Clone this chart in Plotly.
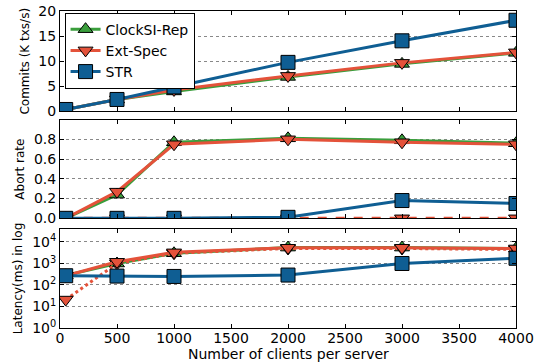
import plotly.graph_objects as go
from plotly.subplots import make_subplots

clients = [50, 500, 1000, 2000, 3000, 4000]

commits_clocksi = [0.4, 2.4, 4.0, 6.9, 9.5, 11.7]
commits_extspec = [0.4, 2.4, 4.3, 7.1, 9.7, 11.8]
commits_str = [0.4, 2.4, 4.9, 9.8, 14.1, 18.2]

abort_clocksi = [0.0, 0.24, 0.77, 0.81, 0.79, 0.76]
abort_extspec = [0.0, 0.27, 0.75, 0.80, 0.77, 0.75]
abort_extspec_spec = [0.0, 0.0, 0.0, 0.0, 0.0, 0.0]
abort_str = [0.0, 0.0, 0.0, 0.01, 0.18, 0.15]

lat_clocksi = [280, 1000, 3000, 5500, 5500, 5000]
lat_extspec = [270, 1200, 3300, 5400, 5400, 5000]
lat_extspec_spec = [21, 1000, 3000, 5000, 5000, 4500]
lat_str = [270, 260, 250, 290, 1000, 1750]

GREEN = "#3a9e3c"
RED = "#e4523a"
BLUE = "#0f5e93"

fig = make_subplots(rows=3, cols=1, shared_xaxes=False, vertical_spacing=0.03)

def add(row, y, name, color, symbol, size, dash="solid", show=False):
    fig.add_trace(go.Scatter(
        x=clients, y=y, name=name, mode="lines+markers",
        line=dict(color=color, width=3, dash=dash),
        marker=dict(symbol=symbol, size=size, color=color, line=dict(color="black", width=1)),
        showlegend=show, legendgroup=name), row=row, col=1)

add(1, commits_clocksi, "ClockSI-Rep", GREEN, "triangle-up", 13, show=True)
add(1, commits_extspec, "Ext-Spec", RED, "triangle-down", 13, show=True)
add(1, commits_str, "STR", BLUE, "square", 14, show=True)

add(2, abort_clocksi, "ClockSI-Rep", GREEN, "triangle-up", 13)
add(2, abort_extspec_spec, "Ext-Spec-dash", RED, "triangle-down", 13, dash="dash")
add(2, abort_extspec, "Ext-Spec", RED, "triangle-down", 13)
add(2, abort_str, "STR", BLUE, "square", 14)

add(3, lat_clocksi, "ClockSI-Rep", GREEN, "triangle-up", 13)
add(3, lat_extspec_spec, "Ext-Spec-dash", RED, "triangle-down", 13, dash="dot")
add(3, lat_extspec, "Ext-Spec", RED, "triangle-down", 13)
add(3, lat_str, "STR", BLUE, "square", 14)

font = dict(family="DejaVu Sans", size=14, color="black")
xcommon = dict(range=[0, 4000], tickvals=[0, 500, 1000, 1500, 2000, 2500, 3000, 3500, 4000],
               ticks="inside", ticklen=4, tickcolor="black", mirror="ticks", showline=True,
               linecolor="black", linewidth=1, showgrid=False, zeroline=False, tickfont=font,
               automargin=False, ticklabeloverflow="allow")
ycommon = dict(ticks="inside", ticklen=4, tickcolor="black", mirror="ticks", showline=True,
               linecolor="black", linewidth=1, showgrid=True, gridcolor="#888888", griddash="dot",
               gridwidth=1, zeroline=False, tickfont=font, automargin=False,
               ticklabeloverflow="allow")
tfont = dict(family="DejaVu Sans", size=12, color="black")

fig.update_layout(
    width=537, height=362, margin=dict(l=60, r=21, t=11, b=34),
    plot_bgcolor="white", paper_bgcolor="white", font=font,
    xaxis=dict(**xcommon, showticklabels=False, domain=[0, 1]),
    xaxis2=dict(**xcommon, showticklabels=False, domain=[0, 1]),
    xaxis3=dict(**xcommon, showticklabels=True, domain=[0, 1], ticklabelstandoff=-3),
    yaxis=dict(**ycommon, domain=[0.683, 1.0], range=[0, 20.05], tickvals=[0, 5, 10, 15, 20],
               title=dict(text="Commits (K txs/s)", font=tfont, standoff=6)),
    yaxis2=dict(**ycommon, domain=[0.346, 0.656], range=[0, 0.995], tickvals=[0, 0.2, 0.4, 0.6, 0.8],
                ticktext=["0.0", "0.2", "0.4", "0.6", "0.8"],
                title=dict(text="Abort rate", font=tfont, standoff=6)),
    yaxis3=dict(**ycommon, domain=[0.0, 0.312], type="log", range=[0, 4.6],
                tickvals=[1, 10, 100, 1000, 10000],
                ticktext=["10<sup>0</sup>", "10<sup>1</sup>", "10<sup>2</sup>", "10<sup>3</sup>", "10<sup>4</sup>"],
                title=dict(text="Latency(ms) in log", font=tfont, standoff=6)),
    legend=dict(x=0.01, y=0.995, xanchor="left", yanchor="top", bgcolor="white",
                bordercolor="black", borderwidth=1, font=dict(family="DejaVu Sans", size=14),
                tracegroupgap=0, itemwidth=30),
    annotations=[dict(text="Number of clients per server", xref="paper", yref="paper",
                      x=0.5, y=-0.083, xanchor="center", yanchor="middle", showarrow=False,
                      font=dict(family="DejaVu Sans", size=14, color="black"))],
)

fig.write_html("out.html", config={"displayModeBar": False},
               post_script="document.body.style.margin='0px';")
